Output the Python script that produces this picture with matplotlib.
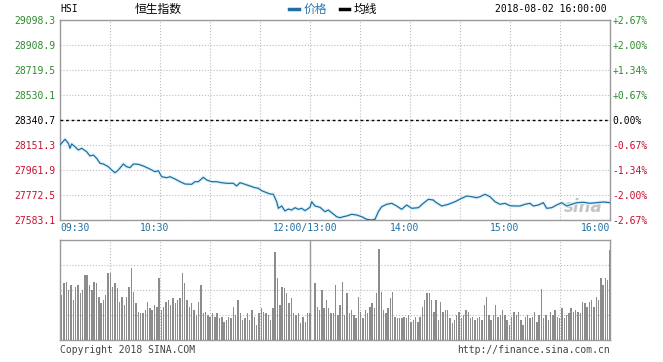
import numpy as np
import matplotlib
matplotlib.use("Agg")
import matplotlib.pyplot as plt
from matplotlib.lines import Line2D

# price axis levels (previous close in the middle) and their percent labels
levels = [29098.3, 28908.9, 28719.5, 28530.1, 28340.7, 28151.3, 27961.9, 27772.5, 27583.1]
pct_labels = ["+2.67%", "+2.00%", "+1.34%", "+0.67%", "0.00%", "-0.67%", "-1.34%", "-2.00%", "-2.67%"]
prev_close = 28340.7

# time axis (trading minutes after 09:30, lunch break removed)
time_ticks = [0, 60, 150, 210, 270, 330]
time_labels = ["09:30", "10:30", "12:00/13:00", "14:00", "15:00", "16:00"]

# HSI intraday price
price_min = [0, 3, 5, 6, 7, 9, 11, 13, 16, 18, 20, 22, 24, 26, 29, 31, 33, 35, 38, 40,
             42, 44, 47, 50, 53, 55, 57, 59, 61, 64, 66, 69, 72, 75, 79, 81, 83, 86, 88, 91,
             94, 97, 100, 104, 106, 108, 111, 114, 117, 119, 121, 124, 126, 128, 130, 131, 133, 135, 137, 139,
             141, 143, 145, 147, 150, 151, 153, 156, 159, 161, 163, 166, 168, 170, 172, 175, 178, 181, 184, 187,
             189, 191, 193, 196, 199, 202, 205, 208, 211, 215, 218, 221, 224, 225, 229, 233, 237, 241, 244, 247,
             250, 252, 255, 258, 261, 264, 267, 270, 273, 276, 279, 282, 284, 287, 290, 292, 295, 298, 301, 304,
             307, 310, 314, 318, 322, 326, 330]
prices = [28151.3, 28194.5, 28164.2, 28126.3, 28158.9, 28138.4, 28113.4, 28126.3, 28100.5, 28068.0,
          28075.5, 28050.5, 28012.7, 28007.4, 27986.9, 27961.9, 27941.4, 27961.9, 28007.4, 27986.9,
          27979.3, 28007.4, 28005.1, 27992.2, 27974.8, 27961.9, 27949.0, 27956.6, 27911.1, 27903.6,
          27911.1, 27893.7, 27873.3, 27855.8, 27853.6, 27873.3, 27873.3, 27906.6, 27886.1, 27873.3,
          27873.3, 27865.7, 27861.1, 27861.1, 27840.7, 27865.7, 27853.6, 27840.7, 27827.8, 27823.3,
          27805.1, 27789.9, 27780.1, 27777.8, 27721.7, 27671.7, 27689.2, 27651.3, 27666.4, 27658.9,
          27676.3, 27664.2, 27671.7, 27653.6, 27679.3, 27721.7, 27689.2, 27679.3, 27646.0, 27658.9,
          27638.4, 27608.1, 27600.5, 27608.1, 27613.4, 27626.3, 27621.0, 27608.1, 27588.4, 27583.1,
          27588.4, 27646.0, 27683.9, 27702.0, 27709.6, 27689.2, 27664.2, 27696.7, 27671.7, 27676.3,
          27709.6, 27739.9, 27734.6, 27721.7, 27689.2, 27702.0, 27721.7, 27747.5, 27764.9, 27759.6,
          27752.0, 27759.6, 27777.8, 27759.6, 27721.7, 27702.0, 27709.6, 27691.4, 27689.2, 27689.2,
          27702.0, 27709.6, 27689.2, 27696.7, 27714.2, 27671.7, 27676.3, 27696.7, 27714.2, 27689.2,
          27702.0, 27714.2, 27717.2, 27709.6, 27714.2, 27719.5, 27714.5]

# volume, relative height (0-100) of each bar, morning and afternoon sessions
vol_am = [45, 57, 58, 50, 55, 40, 53, 55, 47, 50, 65, 65, 55, 50, 58, 57, 43, 37, 40, 45,
          67, 67, 53, 57, 52, 38, 43, 35, 43, 53, 72, 48, 37, 28, 27, 27, 30, 38, 32, 30,
          35, 33, 62, 30, 33, 38, 40, 35, 42, 37, 40, 42, 67, 57, 40, 33, 37, 30, 25, 38,
          55, 27, 28, 25, 23, 27, 23, 27, 22, 23, 18, 20, 23, 22, 33, 25, 40, 27, 20, 22,
          27, 20, 30, 23, 15, 27, 32, 28, 27, 25, 20, 32, 88, 62, 35, 53, 52, 47, 37, 42,
          27, 25, 27, 17, 23, 18, 27, 27]
vol_pm = [57, 33, 30, 50, 32, 40, 32, 27, 27, 55, 25, 35, 58, 25, 47, 27, 30, 25, 22, 43,
          28, 22, 30, 27, 33, 37, 32, 47, 91, 48, 30, 27, 32, 42, 48, 23, 22, 22, 22, 23,
          22, 25, 18, 20, 23, 18, 23, 33, 40, 47, 47, 40, 28, 40, 20, 38, 28, 30, 30, 22,
          17, 20, 25, 28, 22, 25, 30, 28, 22, 23, 20, 22, 23, 20, 35, 43, 25, 20, 25, 35,
          23, 25, 30, 25, 20, 15, 23, 28, 25, 28, 20, 15, 23, 25, 22, 23, 28, 18, 25, 51,
          22, 25, 20, 28, 25, 30, 23, 22, 32, 22, 25, 27, 32, 28, 30, 28, 27, 38, 37, 33,
          38, 40, 33, 43, 40, 62, 55, 62, 60, 90]

W, H = 663, 362
GREEN = "#2e8a2e"
RED = "#c8102e"
BLUE = "#1f6fa3"
GRID = "#bdbdbd"
FRAME = "#9a9a9a"
MONO = "DejaVu Sans Mono"
CJK = ["Noto Sans CJK SC", "DejaVu Sans"]

fig = plt.figure(figsize=(W / 100, H / 100), dpi=100)
fig.patch.set_facecolor("white")


def fx(px):
    return px / W


def fy(py):
    return 1 - py / H


def label_color(i):
    if i < 4:
        return GREEN
    if i == 4:
        return "black"
    return RED


# ---- price panel
ax = fig.add_axes([fx(60), fy(220), 550 / W, 200 / H])
ax.set_xlim(0, 330)
ax.set_ylim(levels[-1], levels[0])
ax.set_xticks(np.arange(0, 331, 30))
ax.set_xticklabels([])
ax.set_yticks(levels)
ax.set_yticklabels([f"{v:.1f}" for v in levels], fontfamily=MONO, fontsize=7)
for i, lab in enumerate(ax.get_yticklabels()):
    lab.set_color(label_color(i))
ax.tick_params(length=0, pad=3)
ax.grid(True, color=GRID, ls=":", lw=0.8)
for s in ax.spines.values():
    s.set_color(FRAME)
    s.set_linewidth(1)

ax.plot(price_min, prices, color="#e0f3fa", lw=2.6, solid_joinstyle="round", zorder=2)
ax.plot(price_min, prices, color=BLUE, lw=0.9, zorder=3)
ax.axhline(prev_close, color="black", ls=(0, (2, 2)), lw=1, zorder=4)

ax.text(314, 27680, "sina", fontsize=12, fontweight="bold", style="italic",
        color="#c4c4c4", ha="center", va="center", zorder=1)

ax2 = ax.twinx()
ax2.set_ylim(levels[-1], levels[0])
ax2.set_yticks(levels)
ax2.set_yticklabels(pct_labels, fontfamily=MONO, fontsize=7)
for i, lab in enumerate(ax2.get_yticklabels()):
    lab.set_color(label_color(i))
ax2.tick_params(length=0, pad=2)
for s in ax2.spines.values():
    s.set_visible(False)

for t, lab in zip(time_ticks, time_labels):
    if t == 0:
        ha, xpos = "left", t
    elif t == 330:
        ha, xpos = "right", t
    else:
        ha, xpos = "center", t - 3
    ax.text(xpos, -0.04, lab, transform=ax.get_xaxis_transform(), ha=ha, va="center",
            fontfamily=MONO, fontsize=7, color=BLUE)

# ---- volume panel
axv = fig.add_axes([fx(60), fy(340), 550 / W, 100 / H])
axv.set_xlim(0, 330)
axv.set_ylim(0, 100)
t_am = np.linspace(1, 150, len(vol_am))
t_pm = np.linspace(153, 330, len(vol_pm))
axv.bar(t_am, vol_am, width=0.85, color="#8c8c8c", zorder=3)
axv.bar(t_pm, vol_pm, width=0.85, color="#8c8c8c", zorder=3)
axv.set_xticks(np.arange(0, 331, 30))
axv.set_yticks([25, 50, 75])
axv.set_xticklabels([])
axv.set_yticklabels([])
axv.tick_params(length=0)
axv.grid(True, color=GRID, ls=":", lw=0.8)
axv.axvline(150, color=FRAME, lw=1, zorder=2)
for s in axv.spines.values():
    s.set_color(FRAME)
    s.set_linewidth(1)

# ---- header
fig.text(fx(60), fy(9), "HSI", fontfamily=MONO, fontsize=7, ha="left", va="center")
fig.text(fx(135), fy(9), "恒生指数", family=CJK, fontsize=8.5, ha="left", va="center")
fig.add_artist(Line2D([fx(289), fx(299)], [fy(9), fy(9)], lw=2.5, color=BLUE))
fig.text(fx(304), fy(9), "价格", family=CJK, fontsize=8.5, color="#2a78b5", ha="left", va="center")
fig.add_artist(Line2D([fx(340), fx(349)], [fy(9), fy(9)], lw=2.5, color="black"))
fig.text(fx(354), fy(9), "均线", family=CJK, fontsize=8.5, ha="left", va="center")
fig.text(fx(607), fy(9), "2018-08-02 16:00:00", fontfamily=MONO, fontsize=7, ha="right", va="center")

# ---- footer
fig.text(fx(60), fy(350), "Copyright 2018 SINA.COM", fontfamily=MONO, fontsize=7,
         color="#444444", ha="left", va="center")
fig.text(fx(610), fy(350), "http://finance.sina.com.cn", fontfamily=MONO, fontsize=7,
         color="#444444", ha="right", va="center")

fig.savefig("out.png", dpi=100, facecolor="white")
